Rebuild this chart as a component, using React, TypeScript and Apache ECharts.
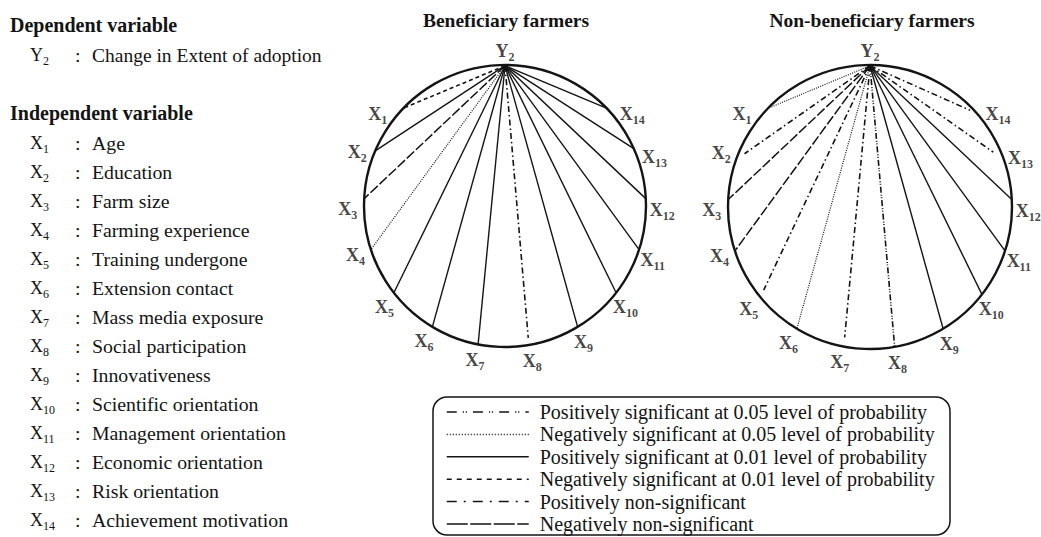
import React, { useEffect, useRef } from "react";
import * as echarts from "echarts";

const SERIF = '"Liberation Serif", "Times New Roman", serif';
const INK = "#141414";

// ---- data ----
const panelTitles = ["Beneficiary farmers", "Non-beneficiary farmers"];
const dependentId = "Y2";
const dependentName = "Change in Extent of adoption";
const independentIds = ["X1", "X2", "X3", "X4", "X5", "X6", "X7", "X8", "X9", "X10", "X11", "X12", "X13", "X14"];
const independentNames = [
  "Age",
  "Education",
  "Farm size",
  "Farming experience",
  "Training undergone",
  "Extension contact",
  "Mass media exposure",
  "Social participation",
  "Innovativeness",
  "Scientific orientation",
  "Management orientation",
  "Economic orientation",
  "Risk orientation",
  "Achievement motivation",
];
const categories = [
  "Positively significant at 0.05 level of probability",
  "Negatively significant at 0.05 level of probability",
  "Positively significant at 0.01 level of probability",
  "Negatively significant at 0.01 level of probability",
  "Positively non-significant",
  "Negatively non-significant",
];
// angle (degrees, counter-clockwise from 3 o'clock) where each X sits on the circle
const chordAngles = [136, 157, 177, 198, 218, 239, 259, 280, 301, 322, 342, 3, 24, 44];
const labelAngles = [144, 160, 181, 198, 220, 239, 259, 280, 300, 320, 340, 358.5, 18, 36];
// category index of each X per group
const beneficiaryCategory = [3, 2, 5, 1, 2, 2, 2, 4, 2, 2, 2, 2, 2, 2];
const nonBeneficiaryCategory = [1, 4, 5, 5, 4, 1, 4, 0, 2, 2, 2, 2, 4, 4];
const beneficiaryReach = [1, 1, 1, 1, 1, 1, 1, 0.95, 1, 1, 1, 1, 1, 1];
const nonBeneficiaryReach = [1, 0.96, 1, 1, 0.95, 1, 0.935, 1, 1, 1, 1, 1, 0.95, 0.98];

// ---- styles ----
const chordDash: any[] = [[6, 2, 1, 1.5, 1, 2], [1, 1.3], "solid", [4, 3], [6, 3, 1.5, 3], [10, 2.5]];
const chordWidth = [1.6, 1.2, 1.4, 1.6, 1.6, 1.5];
const legendDash: any[] = [[10, 6, 1.2, 1.8, 1.2, 6], [1, 2], "solid", [5, 5], [10, 7, 2, 7], [21, 2.5]];

function splitId(id: string) {
  const m = id.match(/^([A-Z])(\d+)$/);
  return m ? [m[1], m[2]] : [id, ""];
}

function App() {
  const ref = useRef<HTMLDivElement>(null);
  useEffect(() => {
    if (!ref.current) return;
    const chart = echarts.init(ref.current, null, { renderer: "svg" });

    const chordSeries = (codes: number[], reach: number[], polarIndex: number) =>
      independentIds.map((id, i) => ({
        type: "line",
        coordinateSystem: "polar",
        polarIndex,
        name: categories[codes[i]],
        data: [
          [0.995, 90],
          [reach[i], chordAngles[i]],
        ],
        symbol: "none",
        silent: true,
        z: 3,
        lineStyle: { color: INK, width: chordWidth[codes[i]], type: chordDash[codes[i]] },
      }));

    const labelRich = {
      big: { fontFamily: SERIF, fontWeight: "bold", fontSize: 18, lineHeight: 18, color: INK, verticalAlign: "middle" },
      sub: { fontFamily: SERIF, fontWeight: "bold", fontSize: 12, lineHeight: 12, color: INK, verticalAlign: "bottom", padding: [0, 0, -3, 0] },
    };

    const labelSeries = (polarIndex: number) => ({
      type: "scatter",
      coordinateSystem: "polar",
      polarIndex,
      silent: true,
      clip: false,
      symbolSize: 1,
      z: 5,
      itemStyle: { color: "rgba(0,0,0,0)" },
      data: [
        { name: dependentId, value: [1.1, 90] },
        ...independentIds.map((id, i) => ({ name: id, value: [1.115, labelAngles[i]] })),
      ],
      label: {
        show: true,
        position: "inside",
        color: INK,
        fontFamily: SERIF,
        fontWeight: "bold",
        fontSize: 18,
        formatter: (p: any) => {
          const [l, n] = splitId(p.name);
          return `{big|${l}}{sub|${n}}`;
        },
        rich: labelRich,
      },
    });

    const angleAxis = (polarIndex: number) => ({
      polarIndex,
      type: "value",
      min: 0,
      max: 360,
      startAngle: 0,
      clockwise: false,
      axisLine: { show: true, lineStyle: { color: INK, width: 2.4 } },
      axisTick: { show: false },
      axisLabel: { show: false },
      splitLine: { show: false },
      silent: true,
    });
    const radiusAxis = (polarIndex: number) => ({
      polarIndex,
      type: "value",
      min: 0,
      max: 1,
      axisLine: { show: false },
      axisTick: { show: false },
      axisLabel: { show: false },
      splitLine: { show: false },
    });

    const listRich = {
      v: { fontFamily: SERIF, fontSize: 18, lineHeight: 18, fill: INK, verticalAlign: "middle" },
      s: { fontFamily: SERIF, fontSize: 12, lineHeight: 12, fill: INK, verticalAlign: "bottom", padding: [0, 0, -3, 0] },
    };
    const textStyle = (text: string, extra: any = {}) => ({
      text,
      fontFamily: SERIF,
      fontSize: 19.8,
      fill: INK,
      verticalAlign: "middle",
      ...extra,
    });
    const idText = (id: string, x: number, y: number) => {
      const [l, n] = splitId(id);
      return { type: "text", x, y, style: { text: `{v|${l}}{s|${n}}`, rich: listRich, verticalAlign: "middle", fill: INK } };
    };

    const graphics: any[] = [
      { type: "text", x: 506, y: 20, style: textStyle(panelTitles[0], { fontWeight: "bold", fontSize: 19.5, align: "center" }) },
      { type: "text", x: 872, y: 20, style: textStyle(panelTitles[1], { fontWeight: "bold", fontSize: 19.5, align: "center" }) },
      { type: "text", x: 10, y: 25, style: textStyle("Dependent variable", { fontWeight: "bold", fontSize: 20 }) },
      idText(dependentId, 30, 55),
      { type: "text", x: 75, y: 55, style: textStyle(":") },
      { type: "text", x: 92, y: 55, style: textStyle(dependentName, { fontSize: 19.5 }) },
      { type: "text", x: 10, y: 113, style: textStyle("Independent variable", { fontWeight: "bold", fontSize: 20 }) },
      {
        type: "rect",
        shape: { x: 433, y: 397, width: 517, height: 138, r: 14 },
        style: { fill: "none", stroke: INK, lineWidth: 1.5 },
        silent: true,
      },
    ];
    independentIds.forEach((id, i) => {
      const y = 143 + 29 * i;
      graphics.push(idText(id, 30, y));
      graphics.push({ type: "text", x: 75, y, style: textStyle(":") });
      graphics.push({ type: "text", x: 92, y, style: textStyle(independentNames[i]) });
    });

    chart.setOption({
      animation: false,
      backgroundColor: "#ffffff",
      polar: [
        { center: [505, 206], radius: 141 },
        { center: [870, 207], radius: 142 },
      ],
      angleAxis: [angleAxis(0), angleAxis(1)],
      radiusAxis: [radiusAxis(0), radiusAxis(1)],
      legend: {
        orient: "vertical",
        left: 446,
        top: 402,
        padding: 0,
        itemWidth: 82,
        itemHeight: 14,
        itemGap: 2.4,
        selectedMode: false,
        itemStyle: { opacity: 0 },
        lineStyle: { color: INK, width: 1.5 },
        textStyle: { fontFamily: SERIF, fontSize: 20, lineHeight: 20, color: INK, padding: [0, 0, 0, 6] },
        data: categories.map((name, i) => ({ name, lineStyle: { type: legendDash[i], width: 1.5, color: INK } })),
      },
      graphic: graphics,
      series: [
        ...chordSeries(beneficiaryCategory, beneficiaryReach, 0),
        ...chordSeries(nonBeneficiaryCategory, nonBeneficiaryReach, 1),
        labelSeries(0),
        labelSeries(1),
      ],
    } as any);

    return () => chart.dispose();
  }, []);

  return <div ref={ref} style={{ position: "fixed", left: 0, top: 0, width: 1041, height: 537 }} />;
}

export default App;
